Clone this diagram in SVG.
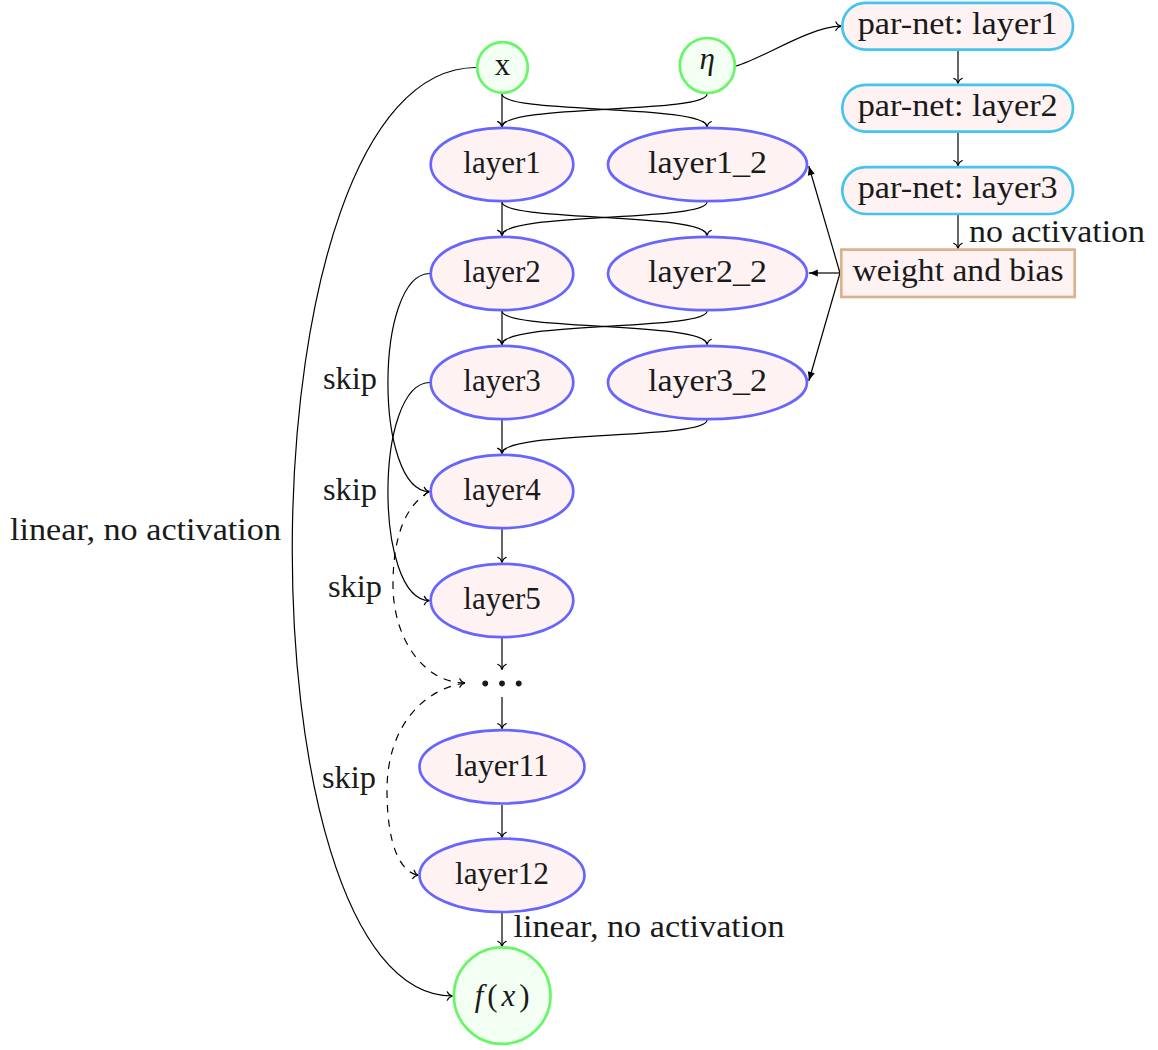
<svg xmlns="http://www.w3.org/2000/svg" width="1158" height="1050" viewBox="0 0 1158 1050">
<style>
  text { font-family: "Liberation Serif", "Times New Roman", serif; font-size: 31px; fill: #1a1a1a; }
  .c { text-anchor: middle; }
  .dots { font-size: 50px; }
  .green { fill: #f2fff2; stroke: #66f766; stroke-width: 2.7; }
  .layer { fill: #fff2f2; stroke: #6666ff; stroke-width: 2.7; }
  .pn { fill: #fff2f2; stroke: #44c4ef; stroke-width: 2.7; }
  .wb { fill: #fff2f2; stroke: #dab38c; stroke-width: 2.7; }
  .e { fill: none; stroke: #000; stroke-width: 1.2; marker-end: url(#to); }
  .d { fill: none; stroke: #000; stroke-width: 1.2; stroke-dasharray: 7.5 7; marker-end: url(#to); }
  .l { fill: none; stroke: #000; stroke-width: 1.2; marker-end: url(#latex); }
</style>
<defs>
  <marker id="to" viewBox="-7 -6 8 12" refX="0" refY="0" markerWidth="8" markerHeight="12" orient="auto" markerUnits="userSpaceOnUse">
    <path d="M-5.2,-4.3 C-4.2,-1.8 -1.6,-0.4 0,0 C-1.6,0.4 -4.2,1.8 -5.2,4.3" fill="none" stroke="#000" stroke-width="1.1" stroke-dasharray="none" stroke-linecap="round"/>
  </marker>
  <marker id="latex" viewBox="-10 -5 11 10" refX="0" refY="0" markerWidth="11" markerHeight="10" orient="auto" markerUnits="userSpaceOnUse">
    <path d="M-9,-3.6 Q-4,-1.2 0,0 Q-4,1.2 -9,3.6 Z" fill="#000" stroke="none"/>
  </marker>
</defs>
<rect width="1158" height="1050" fill="#ffffff"/>

<g id="connectors">
  <path class="e" d="M502,94 L502,126.8"/>
  <path class="e" d="M502,94 C502,114 707,104 707,126.8"/>
  <path class="e" d="M707,94 C707,114 502,104 502,126.8"/>
  <path class="e" d="M736,66 C760,60 810,26.2 841,26.2"/>
  <path class="e" d="M502,202 L502,235.5"/>
  <path class="e" d="M502,202 C502,222 707,212 707,235.5"/>
  <path class="e" d="M707,202 C707,222 502,212 502,235.5"/>
  <path class="e" d="M502,311 L502,344.5"/>
  <path class="e" d="M502,311 C502,331 707,321 707,344.5"/>
  <path class="e" d="M707,311 C707,331 502,321 502,344.5"/>
  <path class="e" d="M502,420 L502,453.5"/>
  <path class="e" d="M707,420 C707,440 502,430 502,453.5"/>
  <path class="e" d="M502,529 L502,562.5"/>
  <path class="e" d="M502,638 L502,669.5"/>
  <path class="e" d="M502,697 L502,728.7"/>
  <path class="e" d="M502,805 L502,837.5"/>
  <path class="e" d="M502,913 L502,946.5"/>
  <path class="e" d="M476.5,67.5 C235,67.5 235,996 452.5,996"/>
  <path class="e" d="M430,273.5 C374,273.5 374,491.5 429.5,491.5"/>
  <path class="e" d="M430,382.5 C374,382.5 374,600.5 429.5,600.5"/>
  <path class="d" d="M429.5,491.5 C406,505 393,535 393,585 C393,640 425,683 465,683"/>
  <path class="d" d="M465,683 C420,690 387,730 387,790 C387,845 400,872 418.5,875.3"/>
  <path class="e" d="M958,50.3 L958,83.5"/>
  <path class="e" d="M958,132.5 L958,165.8"/>
  <path class="e" d="M958,215 L958,248.5"/>
  <path class="l" d="M840,273 L808.8,166"/>
  <path class="l" d="M840,273 L808.8,273"/>
  <path class="l" d="M840,273 L808.8,381"/>
</g>

<g id="node-x">
  <circle class="green" cx="502.5" cy="67.5" r="25.3"/>
  <text class="c" x="502.5" y="74.5">x</text>
</g>
<g id="node-eta">
  <circle class="green" cx="707.3" cy="65.5" r="27.5"/>
  <text class="c" x="707.3" y="68.5" font-style="italic">η</text>
</g>
<g id="node-layer1">
  <ellipse class="layer" cx="502" cy="164.5" rx="71.3" ry="36.7"/>
  <text class="c" x="502" y="173.2">layer1</text>
</g>
<g id="node-layer1_2">
  <ellipse class="layer" cx="707.5" cy="164.5" rx="99.5" ry="36.7"/>
  <text class="c" x="707.5" y="173.2" textLength="119" lengthAdjust="spacingAndGlyphs">layer1_2</text>
</g>
<g id="node-layer2">
  <ellipse class="layer" cx="502" cy="273.5" rx="71.3" ry="36.7"/>
  <text class="c" x="502" y="282.2">layer2</text>
</g>
<g id="node-layer2_2">
  <ellipse class="layer" cx="707.5" cy="273.5" rx="99.5" ry="36.7"/>
  <text class="c" x="707.5" y="282.2" textLength="119" lengthAdjust="spacingAndGlyphs">layer2_2</text>
</g>
<g id="node-layer3">
  <ellipse class="layer" cx="502" cy="382.5" rx="71.3" ry="36.7"/>
  <text class="c" x="502" y="391.2">layer3</text>
</g>
<g id="node-layer3_2">
  <ellipse class="layer" cx="707.5" cy="382.5" rx="99.5" ry="36.7"/>
  <text class="c" x="707.5" y="391.2" textLength="119" lengthAdjust="spacingAndGlyphs">layer3_2</text>
</g>
<g id="node-layer4">
  <ellipse class="layer" cx="502" cy="491.5" rx="71.3" ry="36.7"/>
  <text class="c" x="502" y="500.2">layer4</text>
</g>
<g id="node-layer5">
  <ellipse class="layer" cx="502" cy="600.5" rx="71.3" ry="36.7"/>
  <text class="c" x="502" y="609.2">layer5</text>
</g>
<g id="node-dots">
  <text class="c dots" x="502" y="686">…</text>
</g>
<g id="node-layer11">
  <ellipse class="layer" cx="502" cy="766.8" rx="82.5" ry="36.7"/>
  <text class="c" x="502" y="775.5" textLength="94" lengthAdjust="spacingAndGlyphs">layer11</text>
</g>
<g id="node-layer12">
  <ellipse class="layer" cx="502" cy="875.3" rx="82.5" ry="36.7"/>
  <text class="c" x="502" y="884" textLength="94" lengthAdjust="spacingAndGlyphs">layer12</text>
</g>
<g id="node-fx">
  <circle class="green" cx="502.2" cy="995.6" r="48.3"/>
  <text class="c" x="502.2" y="1005.5" textLength="55" lengthAdjust="spacing"><tspan font-style="italic">f</tspan>(<tspan font-style="italic">x</tspan>)</text>
</g>
<g id="node-parnet1">
  <rect class="pn" x="842.3" y="2.8" width="230.7" height="46.8" rx="23.4"/>
  <text class="c" x="957.7" y="34" textLength="200" lengthAdjust="spacingAndGlyphs">par-net: layer1</text>
</g>
<g id="node-parnet2">
  <rect class="pn" x="842.3" y="84.8" width="230.7" height="46.8" rx="23.4"/>
  <text class="c" x="957.7" y="116" textLength="200" lengthAdjust="spacingAndGlyphs">par-net: layer2</text>
</g>
<g id="node-parnet3">
  <rect class="pn" x="842.3" y="167.2" width="230.7" height="46.8" rx="23.4"/>
  <text class="c" x="957.7" y="198.4" textLength="200" lengthAdjust="spacingAndGlyphs">par-net: layer3</text>
</g>
<g id="node-weightbias">
  <rect class="wb" x="841.3" y="249.6" width="233.4" height="47.4"/>
  <text class="c" x="958" y="280.8" textLength="211" lengthAdjust="spacingAndGlyphs">weight and bias</text>
</g>

<g id="labels">
  <text x="969" y="242.3" textLength="176" lengthAdjust="spacingAndGlyphs">no activation</text>
  <text x="323" y="389.3" textLength="54" lengthAdjust="spacingAndGlyphs">skip</text>
  <text x="323" y="500" textLength="54" lengthAdjust="spacingAndGlyphs">skip</text>
  <text x="328" y="596.8" textLength="54" lengthAdjust="spacingAndGlyphs">skip</text>
  <text x="322" y="788.3" textLength="54" lengthAdjust="spacingAndGlyphs">skip</text>
  <text x="10" y="540" textLength="271" lengthAdjust="spacingAndGlyphs">linear, no activation</text>
  <text x="513.5" y="936.8" textLength="271" lengthAdjust="spacingAndGlyphs">linear, no activation</text>
</g>
</svg>
